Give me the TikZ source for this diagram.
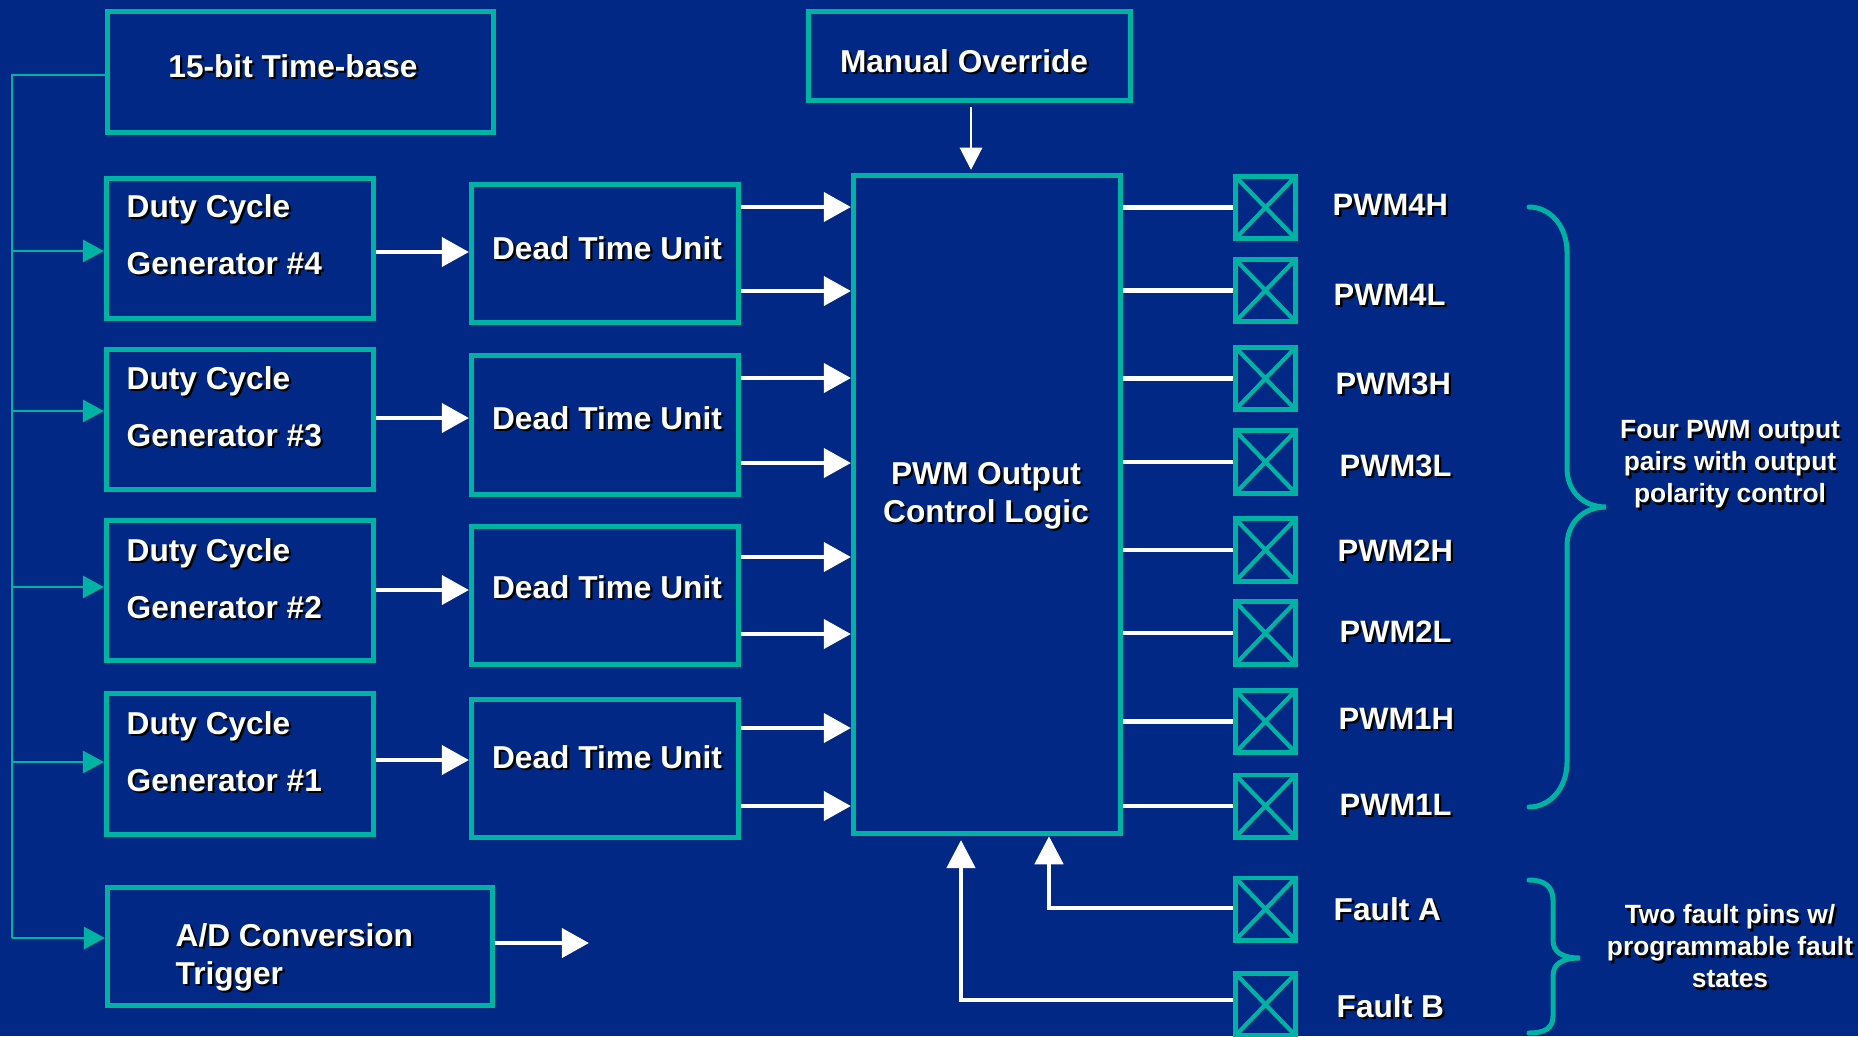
\documentclass[tikz,border=0pt]{standalone}
\usepackage{fontspec}
\setmainfont{Liberation Sans}
\usetikzlibrary{arrows.meta,calc}
\definecolor{bgc}{RGB}{0,40,132}
\definecolor{tealc}{RGB}{0,178,162}
\newcommand{\shd}[1]{\leavevmode\rlap{\kern0.65pt\raisebox{-0.65pt}{\color{black}#1}}#1}
\begin{document}
\begin{tikzpicture}[x=0.01cm,y=-0.01cm,
  box/.style={draw=tealc, line width=1.42pt, inner sep=0pt},
  dcgbox/.style={box, minimum width=2.67cm, minimum height=1.40cm},
  dtubox/.style={box, minimum width=2.67cm, minimum height=1.38cm},
  pinbox/.style={draw=tealc, line width=1.42pt, inner sep=0pt,
    minimum width=0.60cm, minimum height=0.62cm,
    path picture={\draw[tealc, line width=1.2pt]
      (path picture bounding box.north west) -- (path picture bounding box.south east)
      (path picture bounding box.north east) -- (path picture bounding box.south west);}},
  txt/.style={text=white, inner sep=0pt, font=\fontsize{9}{10.8}\selectfont\bfseries},
  dcgtxt/.style={txt, anchor=north west, align=left, font=\fontsize{9}{16.1}\selectfont\bfseries},
  pintxt/.style={txt, anchor=west, font=\fontsize{8.8}{10}\selectfont\bfseries},
  sidetxt/.style={txt, anchor=north, align=center, font=\fontsize{7.5}{9.1}\selectfont\bfseries},
  warrow/.style={draw=white, line width=1.3pt, -{Triangle[length=7.7pt,width=8.2pt]}},
  farrow/.style={draw=white, line width=1.3pt, -{Triangle[length=8pt,width=8pt]}},
  marrow/.style={draw=white, line width=0.8pt, -{Triangle[length=6.3pt,width=6.3pt]}},
  tarrow/.style={draw=tealc, line width=0.75pt, -{Triangle[length=6pt,width=6.3pt]}},
  wline/.style={draw=white, line width=1.3pt},
  bus/.style={draw=tealc, line width=0.75pt},
  brace/.style={draw=tealc, line width=1.42pt, line cap=round}
]
\useasboundingbox (0,0) rectangle (1858,1036);
\fill[bgc] (0,0) rectangle (1858,1036);

% boxes
\node[box, minimum width=3.86cm, minimum height=1.21cm] (tb) at (300.5,72) {};
\node[box, minimum width=3.22cm, minimum height=0.89cm] (mo) at (969.5,56) {};
\node[dcgbox] (dcg4) at (240,248.5) {};
\node[dcgbox] (dcg3) at (240,419.5) {};
\node[dcgbox] (dcg2) at (240,590.5) {};
\node[dcgbox] (dcg1) at (240,764) {};
\node[dtubox] (dtu4) at (605,253.5) {};
\node[dtubox] (dtu3) at (605,425) {};
\node[dtubox] (dtu2) at (605,595.5) {};
\node[dtubox] (dtu1) at (605,768.5) {};
\node[box, minimum width=2.67cm, minimum height=6.58cm] (logic) at (987,504.5) {};
\node[box, minimum width=3.85cm, minimum height=1.18cm] (ad) at (300,946.5) {};

% pins
\node[pinbox] (p4h) at (1265.5,207.5) {};
\node[pinbox] (p4l) at (1265.5,290.5) {};
\node[pinbox] (p3h) at (1265.5,378.5) {};
\node[pinbox] (p3l) at (1265.5,462) {};
\node[pinbox] (p2h) at (1265.5,550) {};
\node[pinbox] (p2l) at (1265.5,633) {};
\node[pinbox] (p1h) at (1265.5,721.5) {};
\node[pinbox] (p1l) at (1265.5,806) {};
\node[pinbox] (fA) at (1265.5,909) {};
\node[pinbox] (fB) at (1265.5,1004.5) {};

% texts
\node[txt] (tbt) at (293,67) {\shd{15-bit Time-base}};
\node[txt] (mot) at (964,62) {\shd{Manual Override}};
\node[dcgtxt] (dcg4t) at (126,194) {\shd{Duty Cycle}\\\shd{Generator \#4}};
\node[dcgtxt] (dcg3t) at (126,366) {\shd{Duty Cycle}\\\shd{Generator \#3}};
\node[dcgtxt] (dcg2t) at (126,538) {\shd{Duty Cycle}\\\shd{Generator \#2}};
\node[dcgtxt] (dcg1t) at (126,711) {\shd{Duty Cycle}\\\shd{Generator \#1}};
\node[txt] (dtu4t) at (607,249) {\shd{Dead Time Unit}};
\node[txt] (dtu3t) at (607,419) {\shd{Dead Time Unit}};
\node[txt] (dtu2t) at (607,588) {\shd{Dead Time Unit}};
\node[txt] (dtu1t) at (607,758) {\shd{Dead Time Unit}};
\node[txt, anchor=north, align=center] (logict) at (986,461.5) {\shd{PWM Output}\\\shd{Control Logic}};
\node[txt, anchor=north west, align=left] (adt) at (175,922.5) {\shd{A/D Conversion}\\\shd{Trigger}};
\node[pintxt] (t4h) at (1332,206) {\shd{PWM4H}};
\node[pintxt] (t4l) at (1333,296) {\shd{PWM4L}};
\node[pintxt] (t3h) at (1335,385) {\shd{PWM3H}};
\node[pintxt] (t3l) at (1339,467) {\shd{PWM3L}};
\node[pintxt] (t2h) at (1337,552) {\shd{PWM2H}};
\node[pintxt] (t2l) at (1339,633) {\shd{PWM2L}};
\node[pintxt] (t1h) at (1338,720) {\shd{PWM1H}};
\node[pintxt] (t1l) at (1339,806) {\shd{PWM1L}};
\node[txt, anchor=west] (fAt) at (1333,910) {\shd{Fault A}};
\node[txt, anchor=west] (fBt) at (1336,1007) {\shd{Fault B}};
\node[sidetxt] (pwmnote) at (1730,420) {\shd{Four PWM output}\\\shd{pairs with output}\\\shd{polarity control}};
\node[sidetxt] (faultnote) at (1730,904) {\shd{Two fault pins w/}\\\shd{programmable fault}\\\shd{states}};

% time-base bus
\coordinate (busTop) at (12,75);
\coordinate (busBot) at (12,938);
\draw[bus] (tb.west |- busTop) -- (busTop) -- (busBot);
\draw[tarrow] (busTop |- 0,251) -- (dcg4.west |- 0,251);
\draw[tarrow] (busTop |- 0,411) -- (dcg3.west |- 0,411);
\draw[tarrow] (busTop |- 0,587) -- (dcg2.west |- 0,587);
\draw[tarrow] (busTop |- 0,762) -- (dcg1.west |- 0,762);
\draw[tarrow] (busBot) -- (ad.west |- busBot);

% duty cycle -> dead time
\draw[warrow] (dcg4.east |- 0,252) -- (dtu4.west |- 0,252);
\draw[warrow] (dcg3.east |- 0,418) -- (dtu3.west |- 0,418);
\draw[warrow] (dcg2.east |- 0,590) -- (dtu2.west |- 0,590);
\draw[warrow] (dcg1.east |- 0,760) -- (dtu1.west |- 0,760);

% dead time -> logic
\draw[warrow] (dtu4.east |- 0,207) -- (logic.west |- 0,207);
\draw[warrow] (dtu4.east |- 0,291) -- (logic.west |- 0,291);
\draw[warrow] (dtu3.east |- 0,378) -- (logic.west |- 0,378);
\draw[warrow] (dtu3.east |- 0,463) -- (logic.west |- 0,463);
\draw[warrow] (dtu2.east |- 0,557) -- (logic.west |- 0,557);
\draw[warrow] (dtu2.east |- 0,634) -- (logic.west |- 0,634);
\draw[warrow] (dtu1.east |- 0,728) -- (logic.west |- 0,728);
\draw[warrow] (dtu1.east |- 0,806) -- (logic.west |- 0,806);

% logic -> pins
\foreach \p in {p4h,p4l,p3h,p3l,p2h,p2l,p1h,p1l}
  \draw[wline] (logic.east |- \p.west) -- (\p.west);

% manual override
\draw[marrow, shorten <=1.1pt, shorten >=0.85pt] (mo.south -| 971,0) -- (logic.north -| 971,0);

% faults
\draw[farrow] (fA.west |- 0,908) -| ($(logic.south)+(62,0)$);
\draw[farrow, shorten >=1.1pt] (fB.west |- 0,1000) -| ($(logic.south)+(-26,0)$);

% A/D trigger out
\coordinate (adOut) at (589,943);
\draw[warrow] (ad.east |- adOut) -- (adOut);

% braces
\draw[brace] (1529,207) .. controls (1550,207) and (1567,226) .. (1567,252)
  -- (1567,468) .. controls (1567,492) and (1584,507) .. (1606,507)
  .. controls (1584,507) and (1567,522) .. (1567,546)
  -- (1567,762) .. controls (1567,788) and (1550,807) .. (1529,807);
\draw[brace] (1529,880) .. controls (1545,880) and (1553,887) .. (1553,900)
  -- (1553,940) .. controls (1553,952) and (1562,958) .. (1580,958)
  .. controls (1562,958) and (1553,964) .. (1553,976)
  -- (1553,1016) .. controls (1553,1028) and (1545,1033) .. (1529,1033);
\end{tikzpicture}
\end{document}
